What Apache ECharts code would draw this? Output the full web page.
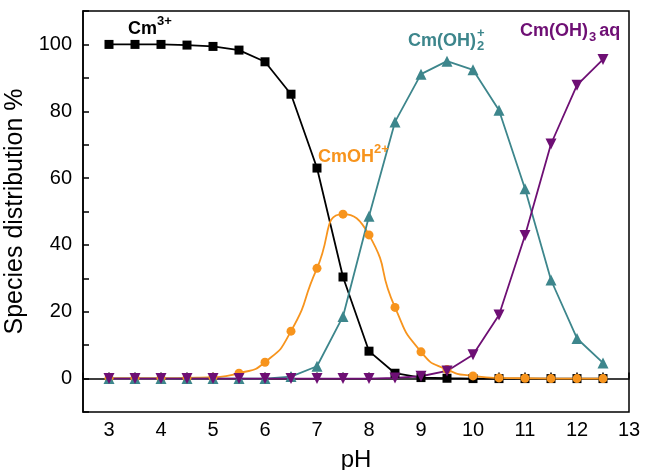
<!DOCTYPE html>
<html>
<head>
<meta charset="utf-8">
<script src="https://cdn.jsdelivr.net/npm/echarts@6/dist/echarts.min.js"></script>
<style>html,body{margin:0;padding:0;background:#fff}#c{width:646px;height:470px}</style>
</head>
<body>
<div id="c"></div>
<script>
const pH = [3,3.5,4,4.5,5,5.5,6,6.5,7,7.5,8,8.5,9,9.5,10,10.5,11,11.5,12,12.5];
const cm3 = [100,100,100,99.8,99.4,98.3,94.8,85.1,63,30.4,8.2,1.6,0.3,0.1,0,0,0,0,0,0];
const cmOH = [0.1,0.1,0.1,0.2,0.4,1.6,4.9,14.2,33,49.2,43,21.3,8,2.7,0.8,0.2,0.1,0,0,0];
const cmOH2 = [0,0,0,0,0,0,0,0.6,3.7,18.6,48.6,76.8,91.1,95,92.4,80.3,56.8,29.5,12,4.7];
const cmOH3 = [0,0,0,0,0,0,0,0,0,0,0,0.2,0.7,2.3,7.1,19,42.8,70.2,87.8,95.5];
const xTicks = [3,4,5,6,7,8,9,10,11,12,13];
const yTicks = [0,20,40,60,80,100];

const FONT = "'Liberation Sans', Arial, sans-serif";
const C_BLACK = '#000000', C_ORANGE = '#F7941D', C_TEAL = '#3D868C', C_PURPLE = '#6E0F74';
const pairs = ys => pH.map((x, i) => [x, ys[i]]);

const ctx = document.createElement('canvas').getContext('2d');
function fontOf(size) { return 'bold ' + size + 'px ' + FONT; }
function width(text, size) { ctx.font = fontOf(size); return ctx.measureText(text).width; }
function txt(text, x, y, size, color) {
  return {type: 'text', x: x, y: y, z: 100, style: {text: text, fill: color, font: fontOf(size), verticalAlign: 'middle', align: 'left'}};
}
// pieces: [text, size, dy, advance?, extraGap]
function label(pieces, x, y, color) {
  const out = [];
  let cx = x;
  pieces.forEach(p => {
    out.push(txt(p[0], cx, y + p[2], p[1], color));
    if (p[3] !== false) cx += width(p[0], p[1]) + (p[4] || 0);
  });
  return out;
}
const MAIN = 18, SMALL = 13;
const graphics = [].concat(
  label([['Cm', MAIN, 0], ['3+', SMALL, -8]], 128, 29, C_BLACK),
  label([['CmOH', MAIN, 0], ['2+', SMALL, -8]], 318, 157, C_ORANGE),
  label([['Cm(OH)', MAIN, 0, true, 1], ['+', SMALL, -8, false], ['2', SMALL, 5]], 408, 41, C_TEAL),
  label([['Cm(OH)', MAIN, 0, true, 1], ['3', SMALL, 6, true, 3], ['aq', MAIN, 0]], 520, 31, C_PURPLE)
);

const chart = echarts.init(document.getElementById('c'));
chart.setOption({
  backgroundColor: '#fff',
  animation: false,
  grid: {left: 83, right: 17, top: 11, bottom: 58, show: true, borderColor: '#000', borderWidth: 1.5,
    backgroundColor: 'transparent', containLabel: false, outerBoundsMode: 'none'},
  xAxis: {
    type: 'value', min: 2.5, max: 13, interval: 0.5,
    name: 'pH', nameLocation: 'middle', nameGap: 36,
    nameTextStyle: {fontFamily: FONT, fontSize: 24, color: '#000'},
    axisLine: {lineStyle: {color: '#000', width: 1.5}},
    axisTick: {inside: true, length: 6, lineStyle: {color: '#000', width: 1.5}},
    axisLabel: {margin: 8, fontFamily: FONT, fontSize: 20, color: '#000',
      formatter: v => xTicks.indexOf(v) >= 0 ? String(v) : ''},
    splitLine: {show: false}
  },
  yAxis: {
    type: 'value', min: -10, max: 110, interval: 10,
    name: 'Species distribution %', nameLocation: 'middle', nameGap: 50, nameRotate: 90,
    nameTextStyle: {fontFamily: FONT, fontSize: 25, color: '#000'},
    axisLine: {show: true, lineStyle: {color: '#000', width: 1.5}},
    axisTick: {show: true, inside: true, length: 6, lineStyle: {color: '#000', width: 1.5}},
    axisLabel: {margin: 11, fontFamily: FONT, fontSize: 20, color: '#000',
      formatter: v => yTicks.indexOf(v) >= 0 ? String(v) : ''},
    splitLine: {show: false}
  },
  series: [
    {type: 'line', data: pairs(cm3), color: C_BLACK, symbol: 'rect', symbolSize: 9,
      lineStyle: {width: 1.8, color: C_BLACK}, itemStyle: {color: C_BLACK}},
    {type: 'line', data: pairs(cmOH), color: C_ORANGE, symbol: 'circle', symbolSize: 9, smooth: 0.6,
      lineStyle: {width: 1.8, color: C_ORANGE}, itemStyle: {color: C_ORANGE}},
    {type: 'line', data: pairs(cmOH2), color: C_TEAL, symbol: 'triangle', symbolSize: 11,
      lineStyle: {width: 1.8, color: C_TEAL}, itemStyle: {color: C_TEAL}},
    {type: 'line', data: pairs(cmOH3), color: C_PURPLE, symbol: 'triangle', symbolRotate: 180, symbolSize: 11,
      lineStyle: {width: 1.8, color: C_PURPLE}, itemStyle: {color: C_PURPLE}}
  ],
  graphic: graphics
});
</script>
</body>
</html>
